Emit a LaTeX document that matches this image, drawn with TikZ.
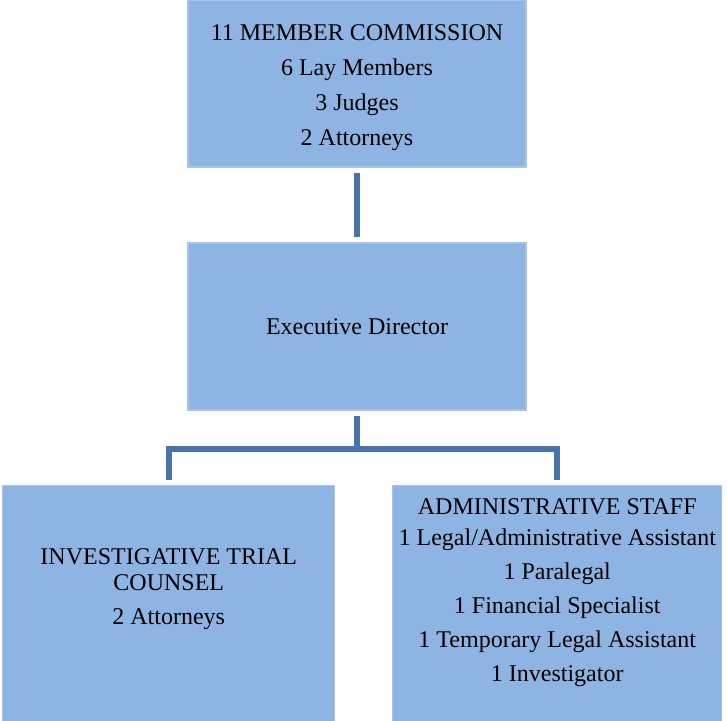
\documentclass[tikz,border=0pt]{standalone}
\usepackage{fontspec}
\setmainfont{Liberation Serif}
\definecolor{boxblue}{RGB}{142,180,227}
\definecolor{boxedge}{RGB}{168,196,234}
\definecolor{linkblue}{RGB}{72,116,170}
\begin{document}
\begin{tikzpicture}[
  orgbox/.style={rectangle, fill=boxblue, draw=boxedge, line width=0.6pt,
    align=center, inner sep=1pt},
  level 1/.style={level distance=121.5pt},
  level 2/.style={level distance=138.5pt, sibling distance=194.25pt},
  edge from parent/.style={draw=linkblue, line width=3pt},
  edge from parent path={([yshift=-2.5pt]\tikzparentnode.south)
    -- ([yshift=-19pt]\tikzparentnode.south) -| ([yshift=2.5pt]\tikzchildnode.north)}]
    \useasboundingbox (0,0) rectangle (363.5pt,-360.5pt);
    \node (comm) [orgbox, minimum width=169pt, minimum height=83.5pt,
        font=\fontsize{12}{17.5}\selectfont, text height=62pt, text depth=0pt]
        at (178.5pt,-41.75pt)
        {11 MEMBER COMMISSION\\6 Lay Members\\3 Judges\\2 Attorneys}
            child { node (dir) [orgbox, minimum width=169pt, minimum height=83.5pt,
                font=\fontsize{12}{14}\selectfont] {Executive Director}
                child { node (itc) [orgbox, xshift=3pt, minimum width=166pt, minimum height=118pt,
                    font=\fontsize{12}{13}\selectfont, text height=21pt, text depth=0pt]
                    {INVESTIGATIVE TRIAL\\COUNSEL\\[4pt]2 Attorneys} }
                child { node (staff) [orgbox, xshift=3pt, minimum width=164.5pt, minimum height=118pt,
                    font=\fontsize{12}{17}\selectfont, text height=78pt, text depth=0pt]
                    {ADMINISTRATIVE STAFF\\[-1.5pt]1 Legal/Administrative Assistant\\
                     1 Paralegal\\1 Financial Specialist\\1 Temporary Legal Assistant\\
                     1 Investigator} }
            }
       ;
\end{tikzpicture}
\end{document}
